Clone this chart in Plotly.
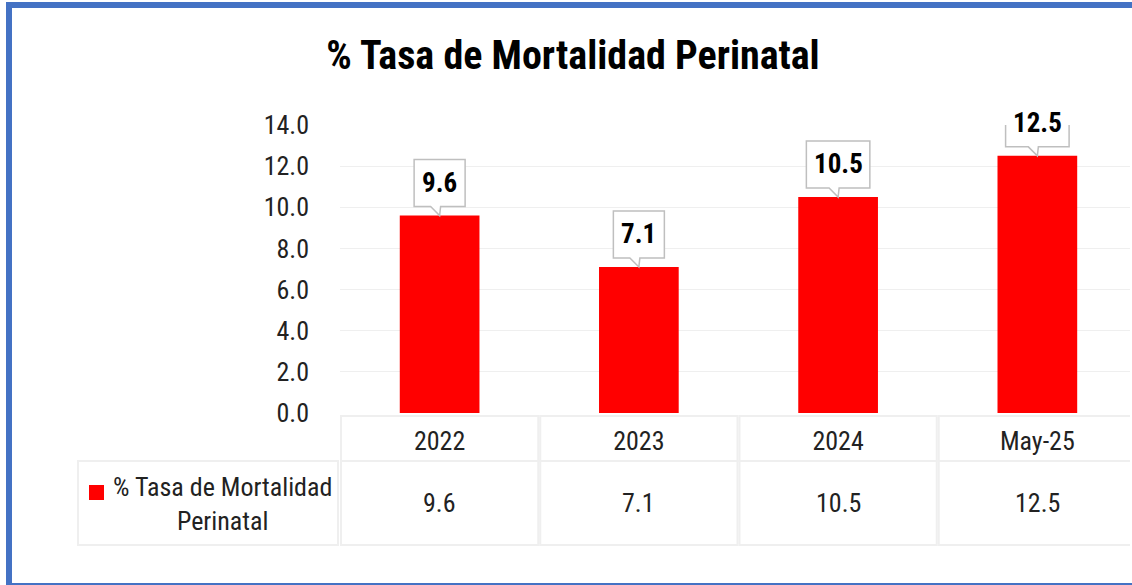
import plotly.graph_objects as go

# data
CATEGORIES = ["2022", "2023", "2024", "May-25"]
TASA = [9.6, 7.1, 10.5, 12.5]
SERIES_NAME = "% Tasa de Mortalidad Perinatal"
TITLE = "% Tasa de Mortalidad Perinatal"
Y_TICKS = [0, 2, 4, 6, 8, 10, 12, 14]

RED = "#FF0000"
BLUE = "#4472C4"
GRID = "#EFEFEF"
FONT = "Roboto Condensed, Liberation Sans Narrow, sans-serif"

# body margin is removed in the page (post_script), so figure px == page px
W, H = 1132, 585
PLOT_L, PLOT_R, PLOT_T, PLOT_B = 340, 1130, 125, 413
M_L, M_R, M_T, M_B = PLOT_L, W - PLOT_R, PLOT_T, H - PLOT_B
PLOT_W = PLOT_R - PLOT_L
PLOT_H = PLOT_B - PLOT_T


def px_x(px):
    """page pixel -> paper x"""
    return (px - PLOT_L) / PLOT_W


def px_y(py):
    """page pixel -> paper y"""
    return (PLOT_B - py) / PLOT_H


fig = go.Figure(
    go.Bar(
        x=CATEGORIES,
        y=TASA,
        width=0.4,
        marker=dict(color=RED, line=dict(width=0)),
        name=SERIES_NAME,
        showlegend=False,
    )
)

shapes = []
annotations = []

# callout boxes over the bars
for i, val in enumerate(TASA):
    label = f"{val:.1f}"
    n_dig = sum(c.isdigit() for c in label)
    w = n_dig * 12.5 + 6 + 20
    hw = w / 2
    path = f"M {-hw},9 L -9,9 L 0,0 L 1,9 L {hw},9 L {hw},56 L {-hw},56 Z"
    shapes.append(dict(
        type="path", path=path, xref="x", yref="y",
        xsizemode="pixel", ysizemode="pixel", xanchor=i, yanchor=val,
        fillcolor="white", line=dict(color="#BFBFBF", width=1.5), layer="above",
    ))
    annotations.append(dict(
        x=i, y=val, xref="x", yref="y", text=f"<b>{label}</b>", showarrow=False,
        xanchor="center", yanchor="middle",
        yshift=33, font=dict(family=FONT, size=27, color="black"),
    ))

# data table below the chart
row_top, row_mid, row_bot = px_y(416), px_y(461), px_y(545)
for i, val in enumerate(TASA):
    for y0, y1 in [(row_mid, row_top), (row_bot, row_mid)]:
        shapes.append(dict(
            type="rect", xref="x", yref="paper", x0=i - 0.495, x1=i + 0.495, y0=y0, y1=y1,
            line=dict(color=GRID, width=2), layer="below",
        ))
    annotations.append(dict(
        x=i, y=px_y(503), xref="x", yref="paper", text=f"{val:.1f}", showarrow=False,
        xanchor="center", yanchor="middle",
        font=dict(family=FONT, size=26, color="#222222"),
    ))

# legend cell
shapes.append(dict(
    type="rect", xref="paper", yref="paper", x0=px_x(78), x1=px_x(338), y0=row_bot, y1=row_mid,
    line=dict(color=GRID, width=2), layer="below",
))
shapes.append(dict(
    type="rect", xref="paper", yref="paper", x0=px_x(89), x1=px_x(104), y0=px_y(500), y1=px_y(485),
    fillcolor=RED, line=dict(width=0),
))
annotations.append(dict(
    x=px_x(222), y=px_y(504), xref="paper", yref="paper",
    xanchor="center", yanchor="middle",
    text="% Tasa de Mortalidad<br>Perinatal", showarrow=False, align="center",
    font=dict(family=FONT, size=26, color="#222222"),
))

# outer blue frame: left, top and bottom sides (right side is cut off in the picture)
frame = dict(type="line", xref="paper", yref="paper", line=dict(color=BLUE, width=6), layer="above")
shapes.append({**frame, "x0": px_x(9), "x1": px_x(9), "y0": px_y(588), "y1": px_y(2)})
shapes.append({**frame, "x0": px_x(6), "x1": px_x(1140), "y0": px_y(5), "y1": px_y(5)})
shapes.append({**frame, "x0": px_x(6), "x1": px_x(1140), "y0": px_y(586), "y1": px_y(586)})

fig.update_layout(
    width=W, height=H,
    margin=dict(l=M_L, r=M_R, t=M_T, b=M_B),
    paper_bgcolor="white", plot_bgcolor="white",
    title=dict(
        text=f"<b>{TITLE}</b>", x=573 / W, xref="container", xanchor="center",
        y=1 - 55 / H, yanchor="middle",
        font=dict(family=FONT, size=40, color="black"),
    ),
    shapes=shapes,
    annotations=annotations,
    showlegend=False,
)
fig.update_yaxes(
    range=[0, 14], tickvals=Y_TICKS, ticktext=[f"{v:.1f}" for v in Y_TICKS],
    showgrid=True, gridcolor=GRID, gridwidth=1, zeroline=False, showline=False,
    ticklabelstandoff=30, tickfont=dict(family=FONT, size=26, color="#222222"),
)
fig.update_xaxes(
    type="category", range=[-0.5, 3.465], showline=False, showgrid=False, zeroline=False,
    ticklabelstandoff=10, tickfont=dict(family=FONT, size=26, color="#222222"),
)

fig.write_html(
    "out.html",
    config={"displayModeBar": False},
    post_script="document.body.style.margin='0';document.body.style.overflow='hidden';",
)
